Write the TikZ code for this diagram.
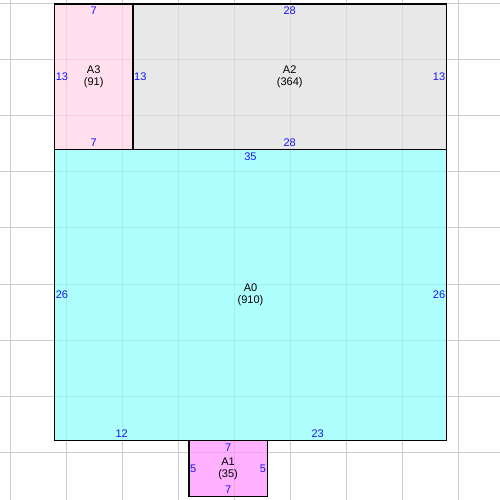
\documentclass[tikz,border=0pt]{standalone}
\usepackage{fontspec}
\setmainfont{Liberation Sans}
\usetikzlibrary{positioning}

\definecolor{pinkroom}{RGB}{255,211,228}
\definecolor{grayroom}{RGB}{222,222,222}
\definecolor{cyanroom}{RGB}{142,255,255}
\definecolor{violetroom}{RGB}{255,142,255}
\definecolor{dimblue}{RGB}{20,20,255}

\begin{document}
\begin{tikzpicture}[x=0.25cm,y=0.25cm,
  gridline/.style={draw=black!20, line width=0.6pt},
  roomfill/.style={fill opacity=0.7},
  roomline/.style={draw=black, line width=0.8pt},
  dim/.style={text=dimblue, font=\fontsize{7}{8}\selectfont, inner xsep=0.6pt, inner ysep=1.6pt},
  tag/.style={align=center, font=\fontsize{7}{7.6}\selectfont, inner sep=0pt}]

  \useasboundingbox (-4.866,-5.295) rectangle (39.777,39.348);

  % grid
  \foreach \k in {0,...,8} {
    \draw[gridline] ({-3.973+5.0036*\k},-5.295) -- ({-3.973+5.0036*\k},39.348);
    \draw[gridline] (-4.866,{39.054-5.013*\k}) -- (39.777,{39.054-5.013*\k});
  }

  % rooms
  \coordinate (a0sw) at (0,0);   \coordinate (a0ne) at (35,26);
  \coordinate (a1sw) at (12,-5); \coordinate (a1ne) at (19,0);
  \coordinate (a2sw) at (7,26);  \coordinate (a2ne) at (35,39);
  \coordinate (a3sw) at (0,26);  \coordinate (a3ne) at (7,39);

  \fill[roomfill, cyanroom] (a0sw) rectangle (a0ne);
  \fill[roomfill, violetroom] (a1sw) rectangle (a1ne);
  \fill[roomfill, grayroom] (a2sw) rectangle (a2ne);
  \fill[roomfill, pinkroom] (a3sw) rectangle (a3ne);

  \draw[roomline] (a0sw) rectangle (a0ne);
  \draw[roomline] (a1sw) rectangle (a1ne);
  \draw[roomline] (a2sw) rectangle (a2ne);
  \draw[roomline] (a3sw) rectangle (a3ne);

  % names
  \node[tag] (A0) at (17.5,13) {A0\\(910)};
  \node[tag] (A1) at (15.5,-2.5) {A1\\(35)};
  \node[tag] (A2) at (21,32.5) {A2\\(364)};
  \node[tag] (A3) at (3.5,32.5) {A3\\(91)};

  % lengths
  \node[dim, anchor=north] (a3top) at (3.5,39) {7};
  \node[dim, anchor=south] (a3bot) at (3.5,26) {7};
  \node[dim, anchor=west] (a3left) at (0,32.5) {13};

  \node[dim, anchor=north] (a2top) at (21,39) {28};
  \node[dim, anchor=south] (a2bot) at (21,26) {28};
  \node[dim, anchor=west] (a2left) at (7,32.5) {13};
  \node[dim, anchor=east] (a2right) at (35,32.5) {13};

  \node[dim, anchor=north] (a0top) at (17.5,26) {35};
  \node[dim, anchor=west] (a0left) at (0,13) {26};
  \node[dim, anchor=east] (a0right) at (35,13) {26};
  \node[dim, anchor=south] (a0bota) at (6,0) {12};
  \node[dim, anchor=south] (a0botb) at (23.5,0) {23};

  \node[dim, anchor=north] (a1top) at (15.5,0) {7};
  \node[dim, anchor=south] (a1bot) at (15.5,-5) {7};
  \node[dim, anchor=west] (a1left) at (12,-2.5) {5};
  \node[dim, anchor=east] (a1right) at (19,-2.5) {5};

\end{tikzpicture}
\end{document}
